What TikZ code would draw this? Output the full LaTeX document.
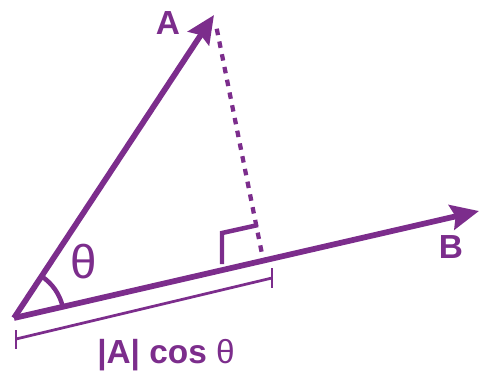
\documentclass[tikz,border=0pt]{standalone}
\usepackage{fontspec}
\setmainfont{Liberation Sans}
\usetikzlibrary{arrows.meta}
\definecolor{vecpurple}{RGB}{124,45,140}

\begin{document}
\begin{tikzpicture}[
    x=0.02cm, y=-0.02cm,
    vec/.style={vecpurple, line width=0.115cm, line cap=butt,
        -{Stealth[length=0.56cm, width=0.5cm, inset=0.08cm]}},
    proj/.style={vecpurple, line width=0.085cm, dash pattern=on 0.13cm off 0.13cm},
    anglemark/.style={vecpurple, line width=0.09cm},
    bracket/.style={vecpurple, line width=0.055cm},
    lbl/.style={vecpurple, font=\bfseries\fontsize{19}{21}\selectfont}
]
\useasboundingbox (0,0) rectangle (481,373);

% Points
\coordinate (O) at (14,318);
\coordinate (A) at (214,15);
\coordinate (B) at (479,211);
\coordinate (F) at (263,259);

% Right angle marker
\coordinate (r1) at (222,264);
\coordinate (r2) at (222,233);
\coordinate (r3) at (258,225);

% Length bracket
\coordinate (bl) at (16,339);
\coordinate (br) at (272,278);

% Projection of A onto B
\draw[proj, shorten <=0.28cm] (A) -- (F);
\draw[anglemark] (r1) -- (r2) -- (r3);

% Vectors
\draw[vec] (O) -- (A);
\draw[vec] (O) -- (B);

% Angle
\draw[anglemark] (O) ++(-12.8:50) arc[start angle=-12.8, end angle=-56.6, radius=50];

% Bracket
\draw[bracket] (bl) -- (br);
\draw[bracket] (bl) ++(0,-9) -- ++(0,19);
\draw[bracket] (br) ++(0,-10) -- ++(0,20);

% Labels
\node[lbl] (labA) at (168,23) {A};
\node[lbl] (labB) at (451,247) {B};
\node[vecpurple, font=\fontsize{27}{29}\selectfont] (theta) at (84,262) {θ};
\node[lbl] (len) at (166,355) {|A| cos {\mdseries θ}};

\end{tikzpicture}
\end{document}
